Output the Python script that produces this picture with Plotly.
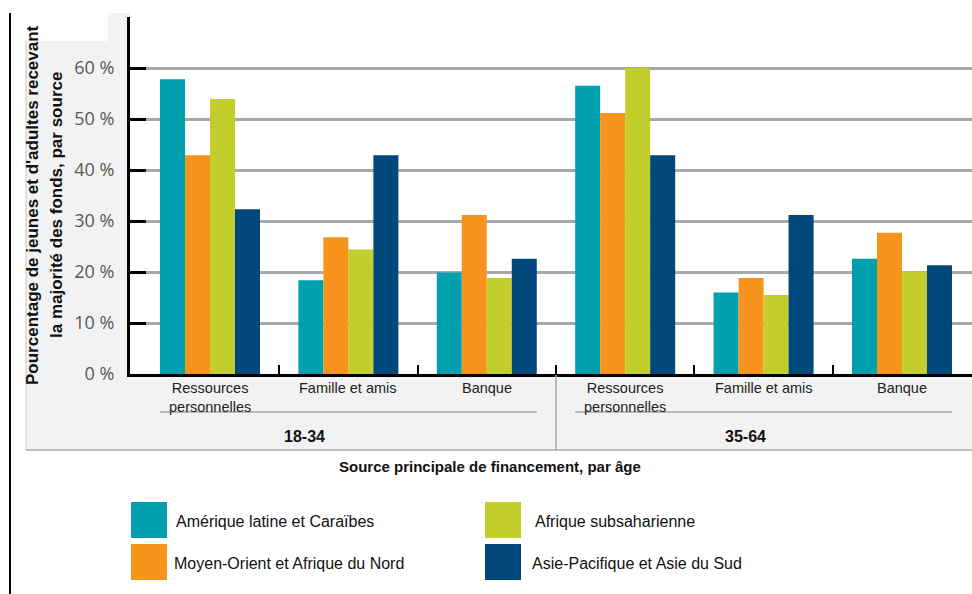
import plotly.graph_objects as go

# ---- data ----
age_groups = ["18-34", "35-64"]
sources = ["Ressources<br>personnelles", "Famille et amis", "Banque"]
series_names = ["Amérique latine et Caraïbes", "Moyen-Orient et Afrique du Nord",
                "Afrique subsaharienne", "Asie-Pacifique et Asie du Sud"]
latam = [57.8, 18.4, 19.9, 56.5, 16.0, 22.6]
mena = [42.9, 26.8, 31.2, 51.2, 18.8, 27.7]
ssa = [53.9, 24.4, 18.8, 60.0, 15.5, 20.1]
asia = [32.3, 42.9, 22.6, 42.9, 31.2, 21.3]
y_ticks = [0, 10, 20, 30, 40, 50, 60, 70]
y_ticklabels = ["0 %", "10 %", "20 %", "30 %", "40 %", "50 %", "60 %", ""]
y_title = ["Pourcentage de jeunes et d'adultes recevant", "la majorité des fonds, par source"]
x_title = "Source principale de financement, par âge"

colors = ["#00A0AF", "#F7941E", "#C3CD2B", "#00477A"]
series = [latam, mena, ssa, asia]

W, H = 972, 594
L, R, T, B = 130, 0, 17, 220
PW, PH = W - L - R, H - T - B
def px(xp):
    return (xp - L) / PW
def py(yp):
    return (H - B - yp) / PH

SANS = "Liberation Sans, Arial, sans-serif"
positions = list(range(len(age_groups) * len(sources)))

fig = go.Figure()
for name, vals, c in zip(series_names, series, colors):
    fig.add_trace(go.Bar(x=positions, y=vals, name=name, marker_color=c,
                         marker_line_width=0, showlegend=False, hoverinfo="skip"))

shapes = []
# gray panel (left strip and bottom strip)
shapes.append(dict(type="rect", xref="paper", yref="paper", x0=px(26), x1=px(130),
                   y0=py(374), y1=py(13), fillcolor="#F2F2F2", line_width=0, layer="below"))
shapes.append(dict(type="rect", xref="paper", yref="paper", x0=px(26), x1=px(972),
                   y0=py(450), y1=py(374), fillcolor="#F2F2F2", line_width=0, layer="below"))
shapes.append(dict(type="rect", xref="paper", yref="paper", x0=px(20), x1=px(108),
                   y0=py(41), y1=py(12), fillcolor="white", line_width=0, layer="below"))
# panel borders
shapes.append(dict(type="line", xref="paper", yref="paper", x0=px(26), x1=px(972),
                   y0=py(450), y1=py(450), line=dict(color="#ABABAB", width=1.5)))
shapes.append(dict(type="line", xref="paper", yref="paper", x0=px(26), x1=px(26),
                   y0=py(450), y1=py(41), line=dict(color="#C8C8C8", width=1)))
# separator between age groups
shapes.append(dict(type="line", xref="x", yref="paper", x0=2.5, x1=2.5,
                   y0=py(450), y1=py(375), line=dict(color="#ABABAB", width=1.5)))
# underline of category labels per age group
half = 0.361
for g in range(len(age_groups)):
    shapes.append(dict(type="line", xref="x", yref="paper",
                       x0=g * len(sources) - half, x1=g * len(sources) + len(sources) - 1 + half,
                       y0=py(412), y1=py(412), line=dict(color="#A6A6A6", width=1.5)))
# left black vertical rule
shapes.append(dict(type="line", xref="paper", yref="paper", x0=px(10), x1=px(10),
                   y0=py(594), y1=py(13), line=dict(color="black", width=2)))

annotations = []
for g, ag in enumerate(age_groups):
    for s, src in enumerate(sources):
        annotations.append(dict(x=g * len(sources) + s, y=py(378), xref="x", yref="paper",
                                text=src, showarrow=False, yanchor="top", xanchor="center",
                                font=dict(family=SANS, size=14.5, color="#222222")))
age_px = [304, 745]
for ag, xp in zip(age_groups, age_px):
    annotations.append(dict(x=px(xp), y=py(436), xref="paper", yref="paper", text="<b>%s</b>" % ag,
                            showarrow=False, xanchor="center", yanchor="middle",
                            font=dict(family=SANS, size=16, color="#111111")))
annotations.append(dict(x=px(490), y=py(466), xref="paper", yref="paper", text="<b>%s</b>" % x_title,
                        showarrow=False, xanchor="center", yanchor="middle",
                        font=dict(family=SANS, size=15, color="#111111")))
for line, xp in zip(y_title, [32, 56]):
    annotations.append(dict(x=px(xp), y=py(205), xref="paper", yref="paper", text="<b>%s</b>" % line,
                            textangle=-90, showarrow=False, xanchor="center", yanchor="middle",
                            font=dict(family=SANS, size=17, color="#111111")))

# legend (custom)
leg_pos = [(131, 502), (131, 544), (485, 502), (485, 544)]
leg_text_x = [174, 172, 533, 530]
for (lx, ly), tx, name, c in zip(leg_pos, leg_text_x, series_names, colors):
    shapes.append(dict(type="rect", xref="paper", yref="paper", x0=px(lx), x1=px(lx + 36),
                       y0=py(ly + 36), y1=py(ly), fillcolor=c, line_width=0))
    annotations.append(dict(x=px(tx), y=py(ly + 19), xref="paper", yref="paper", text=name,
                            showarrow=False, xanchor="left", yanchor="middle",
                            font=dict(family=SANS, size=16, color="#111111")))

fig.update_layout(
    width=W, height=H, margin=dict(l=L, r=R, t=T, b=B),
    paper_bgcolor="white", plot_bgcolor="white",
    barmode="group", bargap=0.2775, bargroupgap=0,
    shapes=shapes, annotations=annotations,
    xaxis=dict(range=[-0.578, 5.506], tickmode="array",
               tickvals=[p + 0.5 for p in positions], ticktext=[""] * len(positions),
               ticks="inside", ticklen=9, tickwidth=2, tickcolor="black",
               showline=True, linecolor="black", linewidth=3, showgrid=False, zeroline=False),
    yaxis=dict(range=[0, 70], tickmode="array", tickvals=y_ticks, ticktext=y_ticklabels,
               ticks="inside", ticklen=16, tickwidth=3, tickcolor="black",
               showline=True, linecolor="black", linewidth=3,
               showgrid=True, gridcolor="#A9A9AD", gridwidth=2.5, zeroline=False,
               ticklabelstandoff=9,
               tickfont=dict(family="Open Sans, sans-serif", size=18, color="#595959")),
)

fig.write_html("out.html", config={"displayModeBar": False},
               post_script="document.body.style.margin='0px';")
